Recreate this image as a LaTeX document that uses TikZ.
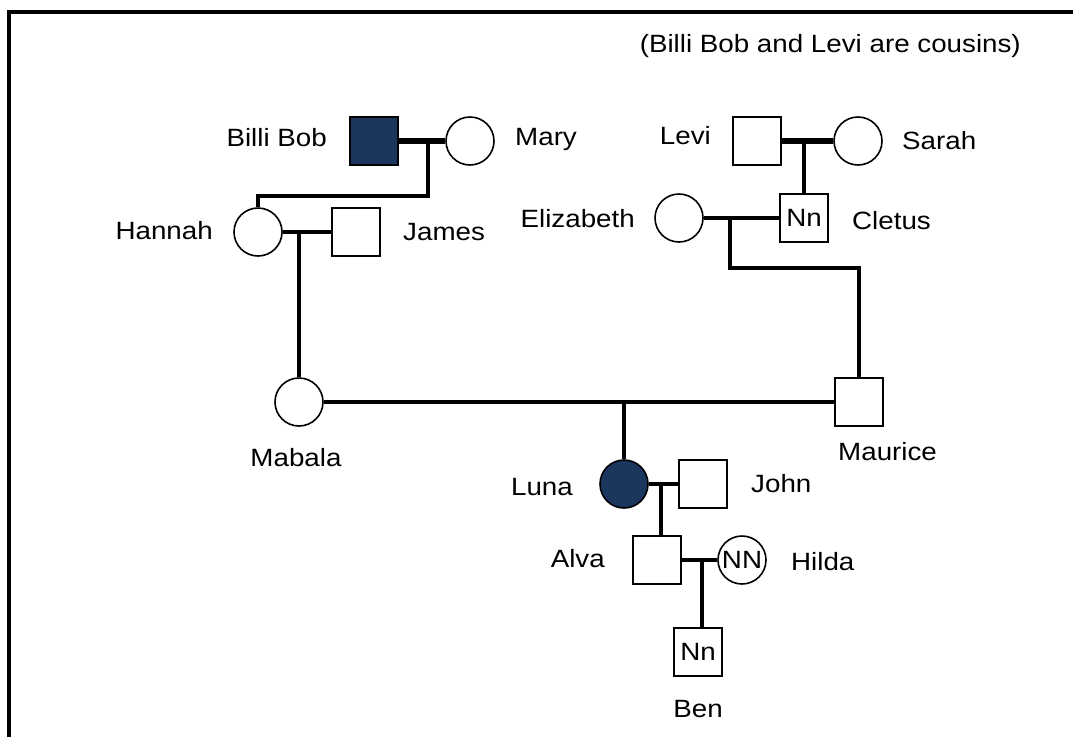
\documentclass[tikz,border=0pt]{standalone}
\usepackage{fontspec}
\setmainfont{Liberation Sans}[FakeStretch=1.11]
\definecolor{affected}{RGB}{27,54,93}

\begin{document}
\begin{tikzpicture}[x=1pt,y=-1pt,font=\fontsize{25}{30}\selectfont,
    male/.style={draw,rectangle,line width=1.6pt,minimum size=48pt,inner sep=0pt},
    female/.style={draw,circle,line width=1.6pt,minimum size=48pt,inner sep=0pt},
    ill/.style={fill=affected},
    who/.style={inner sep=0pt},
    bond/.style={line width=6pt},
    couple/.style={line width=4pt},
    kin/.style={line width=4pt}]
                    \useasboundingbox (0,0) rectangle (1073,737);
                    \draw[line width=4pt] (9,737) -- (9,12) -- (1075,12);
                    % people
                    \node[male,ill] (billi) at (374,141) {};
                    \node[female] (mary) at (470,141) {};
                    \node[male] (levi) at (757,141) {};
                    \node[female] (sarah) at (858,141) {};
                    \node[female] (hannah) at (258,232) {};
                    \node[male] (james) at (356,232) {};
                    \node[female] (elizabeth) at (679,218) {};
                    \node[male] (cletus) at (804,218) {Nn};
                    \node[female] (mabala) at (299,402) {};
                    \node[male] (maurice) at (859,402) {};
                    \node[female,ill] (luna) at (624,484) {};
                    \node[male] (john) at (703,484) {};
                    \node[male] (alva) at (657,560) {};
                    \node[female] (hilda) at (742,560) {NN};
                    \node[male] (ben) at (698,652) {Nn};
                    % where the children hang
                    \coordinate (bm) at (428,141);
                    \coordinate (hj) at (299,232);
                    \coordinate (ls) at (804,141);
                    \coordinate (ec) at (730,218);
                    \coordinate (mm) at (624,402);
                    \coordinate (lj) at (661,484);
                    \coordinate (ah) at (702,560);
                    % marriages
                    \draw[bond] (billi) -- (mary);
                    \draw[bond] (levi) -- (sarah);
                    \draw[couple] (hannah) -- (james);
                    \draw[couple] (elizabeth) -- (cletus);
                    \draw[couple] (mabala) -- (maurice);
                    \draw[couple] (luna) -- (john);
                    \draw[couple] (alva) -- (hilda);
                    % children
                    \draw[kin] (bm) -- ++(0,55) -| (hannah);
                    \draw[kin] (hj) -- (mabala);
                    \draw[kin] (ls) -- (cletus);
                    \draw[kin] (ec) -- ++(0,50) -| (maurice);
                    \draw[kin] (mm) -- (luna);
                    \draw[kin] (lj) -- (lj |- alva.north);
                    \draw[kin] (ah) -- (ah |- ben.north);
                    % names
                    \node[who,anchor=base east] (billiL) at (327,146) {Billi Bob};
                    \node[who,anchor=base west] (maryL) at (515,145) {Mary};
                    \node[who,anchor=base east] (leviL) at (711,144) {Levi};
                    \node[who,anchor=base west] (sarahL) at (902,149) {Sarah};
                    \node[who,anchor=base east] (hannahL) at (213,239) {Hannah};
                    \node[who,anchor=base west] (jamesL) at (403,240) {James};
                    \node[who,anchor=base east] (elizabethL) at (635,227) {Elizabeth};
                    \node[who,anchor=base west] (cletusL) at (852,229) {Cletus};
                    \node[who,anchor=base] (mabalaL) at (296,466) {Mabala};
                    \node[who,anchor=base west] (mauriceL) at (838,460) {Maurice};
                    \node[who,anchor=base east] (lunaL) at (573,495) {Luna};
                    \node[who,anchor=base west] (johnL) at (751,492) {John};
                    \node[who,anchor=base east] (alvaL) at (605,567) {Alva};
                    \node[who,anchor=base west] (hildaL) at (791,570) {Hilda};
                    \node[who,anchor=base] (benL) at (698,717) {Ben};
                    \node[who,anchor=base east] (note) at (1021,52) {(Billi Bob and Levi are cousins)};
                \end{tikzpicture}
\end{document}
